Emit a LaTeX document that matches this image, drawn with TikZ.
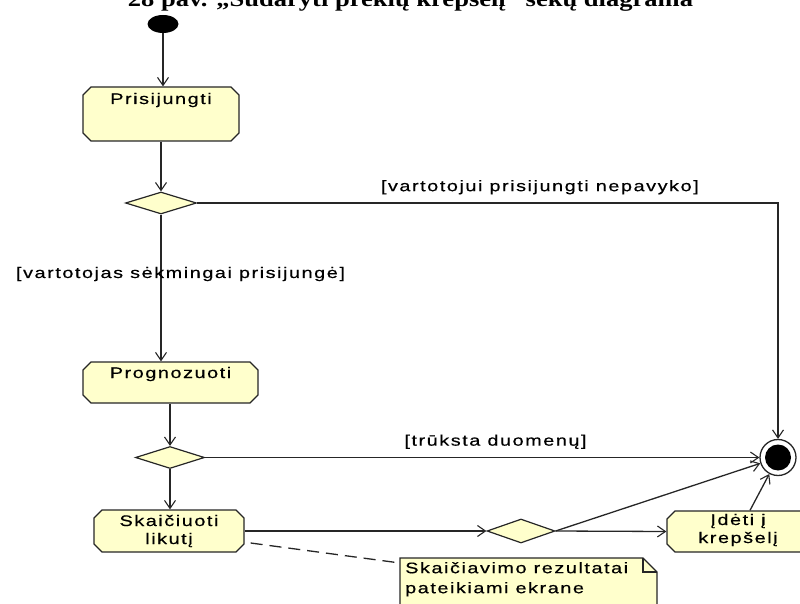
\documentclass[tikz,border=0pt]{standalone}
\usepackage{fontspec}
\newfontfamily\diagfont{Liberation Sans}[FakeStretch=1.3,LetterSpace=10,FakeBold=0.4]
\newfontfamily\titlefont{Liberation Serif}
\usetikzlibrary{arrows.meta,shapes.misc,shapes.geometric,backgrounds}
\definecolor{actfill}{HTML}{FFFFCC}
\definecolor{ink}{HTML}{262626}

\begin{document}
\begin{tikzpicture}[x=1pt,y=-1pt,
  txt/.style={font=\diagfont\fontsize{15.3pt}{18pt}\selectfont},
  act/.style={txt, chamfered rectangle, chamfered rectangle xsep=4pt,
    chamfered rectangle ysep=4pt, draw=ink, fill=actfill, line width=1.3pt,
    inner xsep=3pt, inner ysep=3pt, align=center},
  decision/.style={diamond, draw=ink, fill=actfill, line width=1.2pt,
    inner sep=0pt},
  startnode/.style={ellipse, fill=black, minimum width=31pt,
    minimum height=18pt, inner sep=0pt},
  endnode/.style={circle, draw=ink, line width=1.3pt, fill=white,
    minimum size=36pt, inner sep=0pt,
    path picture={\fill[black] (path picture bounding box.center) circle (13pt);}},
  flow/.style={draw=ink, line width=1.3pt,
    -{Straight Barb[length=8pt,width=11pt,line width=1.1pt]}},
  guard/.style={txt, inner sep=0pt},
  notebox/.style={draw=ink, fill=actfill, line width=1.3pt},
]
\useasboundingbox (0,0) rectangle (800,604);
\clip (0,0) rectangle (800,604);

% caption line
\node[font=\titlefont\bfseries\fontsize{22pt}{26pt}\selectfont, anchor=base,
  inner sep=0pt] (title) at (410.5,7)
  {\resizebox{565pt}{\height}{28 pav. „Sudaryti prekių krepšelį“ sekų diagrama}};

% activity nodes (chamfer adds 4pt above and below the text box)
\node[startnode] (start) at (163,24) {};
\node[act, minimum width=156pt, text height=10pt, text depth=30pt]
  (login) at (161,114) {Prisijungti};
\node[decision, minimum width=71pt, minimum height=22pt] (d1) at (161,203) {};
\node[act, minimum width=175pt, text height=9pt, text depth=18pt]
  (prog) at (170.5,382.5) {Prognozuoti};
\node[decision, minimum width=69pt, minimum height=22pt] (d2) at (170,457.5) {};
\node[act, minimum width=150pt, text height=27pt, text depth=1pt]
  (calc) at (169,531) {Skaičiuoti\\likutį};
\node[decision, minimum width=68pt, minimum height=24pt] (d3) at (521,531) {};
\node[act, minimum width=142pt, text height=25pt, text depth=2pt]
  (add) at (738,531.5) {Įdėti į\\krepšelį};
\node[endnode] (final) at (778,457.5) {};

% comment note
\node[txt, anchor=north west, inner xsep=5pt, inner ysep=3pt, text height=32pt,
  align=left, font=\diagfont\fontsize{15.3pt}{20pt}\selectfont]
  (note) at (400,558) {Skaičiavimo rezultatai\\pateikiami ekrane};
\begin{scope}[on background layer]
  \draw[notebox] (note.north west) -- ++(243,0) -- ++(14,14) -- ++(0,60)
    -- ++(-257,0) -- cycle;
  \draw[draw=ink, line width=1.3pt] ([xshift=243pt]note.north west)
    -- ++(0,14) -- ++(14,0);
\end{scope}

% control flow
\draw[flow] (start) -- (start |- login.north);
\draw[flow] (login.south -| d1) -- (d1);
\draw[flow] (d1.east) -| node[guard, above=8pt, pos=0.295]
  {[vartotojui prisijungti nepavyko]} (final.north);
\draw[flow] (d1.south) -- node[guard, pos=0.405, xshift=19.5pt]
  {[vartotojas sėkmingai prisijungė]} (d1.south |- prog.north);
\draw[flow] (prog.south -| d2) -- (d2);
\draw[flow] (d2.east) -- node[guard, above=8pt, pos=0.524]
  {[trūksta duomenų]} (final.west);
\draw[flow] (d2.south) -- (d2.south |- calc.north);
\draw[flow] (calc.east) -- (d3.west);
\draw[flow] (d3.east) -- (add.west);
\draw[flow] (d3.east) -- (final);
\draw[flow] ([xshift=12pt]add.north) -- (final);

% note anchor
\draw[draw=ink, line width=1.3pt, dash pattern=on 12pt off 7pt]
  ([xshift=6pt,yshift=-12pt]calc.east) -- ([yshift=-5pt]note.north west);
\end{tikzpicture}
\end{document}
